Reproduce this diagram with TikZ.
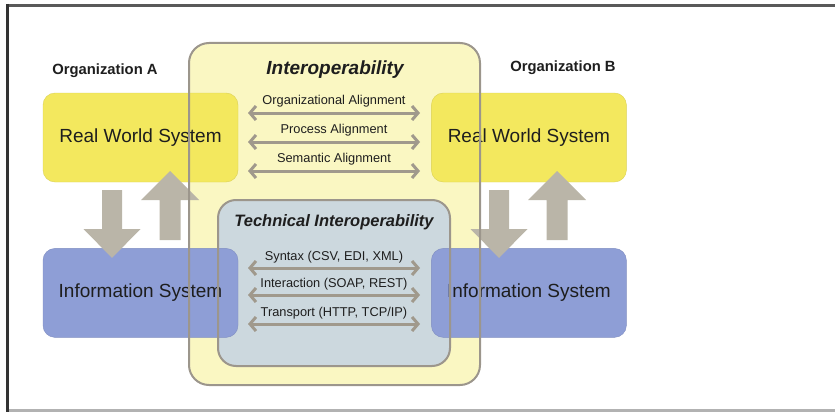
\documentclass[tikz,border=0pt]{standalone}
\usepackage{fontspec}
\setmainfont{Liberation Sans}
\usetikzlibrary{arrows.meta,positioning}

\definecolor{interopfill}{RGB}{250,247,194}
\definecolor{techfill}{RGB}{204,216,222}
\definecolor{boxline}{RGB}{156,150,140}
\definecolor{rwsyellow}{RGB}{243,232,94}
\definecolor{isblue}{RGB}{142,158,214}
\definecolor{blockgray}{RGB}{186,181,168}
\definecolor{aligngray}{RGB}{160,153,140}
\definecolor{txtdark}{RGB}{30,30,30}

\tikzset{
  sysbox/.style={rounded corners=12pt, minimum width=195pt, minimum height=89pt,
    inner sep=0pt, text=txtdark, font=\fontsize{19}{22}\selectfont},
  rwsbox/.style={sysbox, fill=rwsyellow, draw=rwsyellow!90!black, line width=.4pt},
  isbox/.style={sysbox, fill=isblue, draw=isblue!90!black, line width=.4pt},
  orglabel/.style={text=txtdark, font=\fontsize{14.8}{17}\selectfont\bfseries},
  lbl/.style={text=txtdark, inner sep=0pt, font=\fontsize{12.8}{15}\selectfont},
  dblarrow/.style={line width=3pt, color=aligngray,
    {Straight Barb[length=6pt,width=14pt]}-{Straight Barb[length=6pt,width=14pt]}},
}

\begin{document}
\begin{tikzpicture}[x=1pt, y=-1pt]
\useasboundingbox (0,0) rectangle (835,412);

% page frame
\draw[line width=3pt, color=black!65] (6,6) -- (835,6);
\draw[line width=3pt, color=black!30] (6,410.5) -- (835,410.5);
\draw[line width=3pt, color=black!80] (7.5,4) -- (7.5,412);

% interoperability areas (fill only, outlines come last)
\fill[interopfill, rounded corners=20pt] (189,43) rectangle (480,385);
\fill[techfill, rounded corners=18pt] (218,200) rectangle (450,366);

% organizations
\node[rwsbox] (rwsA) at (140.5,137.5) {Real World System};
\node[isbox, below=66pt of rwsA] (isA) {Information System};
\node[rwsbox, right=193pt of rwsA] (rwsB) {Real World System};
\node[isbox, below=66pt of rwsB] (isB) {Information System};
\node[orglabel] (orgA) at (105,71) {Organization A};
\node[orglabel] (orgB) at (563,68) {Organization B};

% block arrows between the two systems
\foreach \x in {112,499}
    \fill[blockgray] (\x-10,190) -- (\x+10,190) -- (\x+10,229) -- (\x+28.5,229)
        -- (\x,258) -- (\x-28.5,229) -- (\x-10,229) -- cycle;
\foreach \x in {170,557}
    \fill[blockgray] (\x-10.5,240) -- (\x+10.5,240) -- (\x+10.5,200) -- (\x+29,200)
        -- (\x,171) -- (\x-29,200) -- (\x-10.5,200) -- cycle;

% titles
\node[text=txtdark, font=\fontsize{19}{22}\selectfont\bfseries\itshape] (interopTitle) at (335,70) {Interoperability};
\node[text=txtdark, font=\fontsize{16.5}{19}\selectfont\bfseries\itshape] (techTitle) at (334,222) {Technical Interoperability};

% alignments
\foreach \y/\txt [count=\i] in {101/Organizational Alignment, 130/Process Alignment, 159/Semantic Alignment}{
    \node[lbl] (al\i) at (334,\y) {\txt};
    \coordinate (al\i l) at (248,\y+12);
    \coordinate (al\i r) at (420,\y+12);
    \draw[dblarrow] (al\i l) -- (al\i r);
}
% technical layers
\foreach \y/\txt [count=\i] in {257/{Syntax (CSV, EDI, XML)}, 284/{Interaction (SOAP, REST)}, 313/{Transport (HTTP, TCP/IP)}}{
    \node[lbl] (tl\i) at (334,\y) {\txt};
    \coordinate (tl\i l) at (248,\y+11);
    \coordinate (tl\i r) at (420,\y+11);
    \draw[dblarrow] (tl\i l) -- (tl\i r);
}

% outlines on top
\draw[boxline, line width=2pt, rounded corners=20pt] (189,43) rectangle (480,385);
\draw[boxline, line width=2pt, rounded corners=18pt] (218,200) rectangle (450,366);
\end{tikzpicture}
\end{document}
